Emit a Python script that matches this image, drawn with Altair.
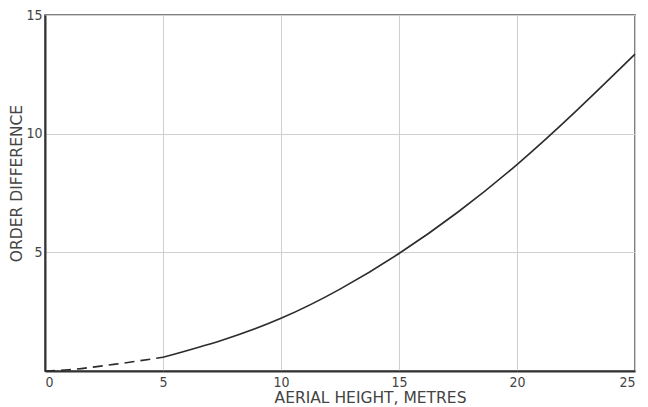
import altair as alt
import pandas as pd

# Dashed (estimated) segment
dash_x = [0, 1, 2, 3, 4, 5]
dash_y = [0.0, 0.05, 0.16, 0.29, 0.43, 0.58]

# Solid segment
solid_x = [5, 7.5, 10, 12.5, 15, 17.5, 20, 22.5, 25]
solid_y = [0.58, 1.3, 2.22, 3.45, 4.95, 6.7, 8.7, 10.95, 13.35]

x_ticks = [0, 5, 10, 15, 20, 25]
y_ticks = [0, 5, 10, 15]

dash_df = pd.DataFrame({"h": dash_x, "d": dash_y})
solid_df = pd.DataFrame({"h": solid_x, "d": solid_y})

FONT = "DejaVu Sans"

x_enc = alt.X(
    "h:Q",
    scale=alt.Scale(domain=[0, 25], nice=False, zero=True),
    axis=alt.Axis(
        values=x_ticks,
        title="AERIAL HEIGHT,  METRES",
        grid=True,
        ticks=False,
        labelPadding=4,
        titlePadding=1,
        titleX=325,
    ),
)
y_enc = alt.Y(
    "d:Q",
    scale=alt.Scale(domain=[0, 15], nice=False),
    axis=alt.Axis(
        values=y_ticks,
        title="ORDER DIFFERENCE",
        grid=True,
        ticks=False,
        labelPadding=3,
        titlePadding=1,
        titleY=168,
        labelExpr="datum.value == 0 ? '' : datum.label",
    ),
)

solid = alt.Chart(solid_df).mark_line(
    color="#2b2b2b", strokeWidth=1.6, interpolate="natural"
).encode(x=x_enc, y=y_enc)

dashed = alt.Chart(dash_df).mark_line(
    color="#2b2b2b", strokeWidth=1.6, strokeDash=[10, 6], interpolate="natural"
).encode(x=x_enc, y=y_enc)

chart = (
    alt.layer(dashed, solid)
    .properties(
        width=590,
        height=356,
        autosize=alt.AutoSizeParams(type="none"),
        padding={"left": 45, "top": 15, "right": 13, "bottom": 36},
        background="white",
    )
    .configure_view(stroke="#555555", strokeWidth=1.5)
    .configure_axis(
        domainColor="#333333",
        domainWidth=2,
        gridColor="#cfcfcf",
        gridWidth=1,
        labelFont="DejaVu Sans Condensed",
        labelFontSize=14,
        labelColor="#444444",
        titleFont=FONT,
        titleFontSize=15.5,
        titleFontWeight="normal",
        titleColor="#444444",
    )
)

chart.save("out.html", embed_options={"renderer": "svg", "actions": False})
